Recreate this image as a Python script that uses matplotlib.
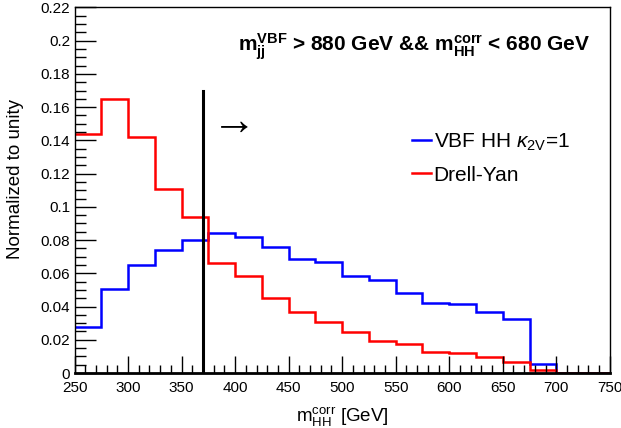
import numpy as np
import matplotlib
matplotlib.use("Agg")
import matplotlib.pyplot as plt
from matplotlib.ticker import MultipleLocator, FuncFormatter

plt.rcParams['font.family'] = ['Liberation Sans', 'DejaVu Sans']
plt.rcParams['mathtext.fontset'] = 'custom'
plt.rcParams['mathtext.rm'] = 'Liberation Sans'
plt.rcParams['mathtext.it'] = 'Liberation Sans:italic'
plt.rcParams['mathtext.bf'] = 'Liberation Sans:bold'

# bin edges, 25 GeV wide
edges = np.arange(250, 751, 25)

vbf_hh = [0.0276, 0.0507, 0.0648, 0.0741, 0.0803, 0.0845, 0.0816, 0.0757, 0.0688, 0.0668,
          0.0582, 0.0557, 0.0479, 0.0419, 0.0415, 0.0368, 0.0326, 0.0054, 0.0, 0.0]
drell_yan = [0.1437, 0.1649, 0.1418, 0.1105, 0.0938, 0.0660, 0.0586, 0.0451, 0.0366, 0.0308,
             0.0248, 0.0191, 0.0175, 0.0126, 0.0121, 0.0097, 0.0068, 0.0020, 0.0, 0.0]

cut_value = 370
cut_top = 0.17

fig = plt.figure(figsize=(6.21, 4.28), dpi=100)
ax = fig.add_axes([0.12, 0.1285, 0.862, 0.854])

ax.stairs(vbf_hh, edges, color='#0000ff', lw=1.8, label=r'VBF HH $\kappa_{\mathrm{2V}}$=1', baseline=None)
ax.stairs(drell_yan, edges, color='#ff0000', lw=1.8, label='Drell-Yan', baseline=None)
ax.plot([cut_value, cut_value], [0, cut_top], color='black', lw=2.2)

ax.set_xlim(250, 750)
ax.set_ylim(0, 0.22)

ax.xaxis.set_major_locator(MultipleLocator(50))
ax.xaxis.set_minor_locator(MultipleLocator(10))
ax.yaxis.set_major_locator(MultipleLocator(0.02))
ax.yaxis.set_minor_locator(MultipleLocator(0.005))
ax.yaxis.set_major_formatter(FuncFormatter(lambda v, p: '%g' % round(v, 3)))
ax.tick_params(which='both', direction='in', top=False, right=False, labelsize=11)
ax.tick_params(which='major', length=12, width=1)
ax.tick_params(which='minor', length=6, width=1)
ax.tick_params(axis='y', which='major', length=15, pad=3)
ax.tick_params(axis='y', which='minor', length=8)
ax.tick_params(axis='x', pad=6)
for s in ax.spines.values():
    s.set_linewidth(1)
ax.spines['bottom'].set_linewidth(2)

ax.set_xlabel(r'$\mathrm{m}_{\mathrm{HH}}^{\mathrm{corr}}$ [GeV]', fontsize=13.5, va='center')
ax.xaxis.set_label_coords(0.5, -0.121)
ax.set_ylabel('Normalized to unity', fontsize=13.5, va='center')
ax.yaxis.set_label_coords(-0.111, 0.53)

ax.text(0.963, 0.881, r'$\mathbf{m_{jj}^{VBF}}$ > 880 GeV && $\mathbf{m_{HH}^{corr}}$ < 680 GeV',
        transform=ax.transAxes, ha='right', va='baseline', fontsize=15, fontweight='bold')
ax.text(378, 0.151, '→', fontsize=32, va='center', ha='left')

ax.legend(loc='upper left', bbox_to_anchor=(0.63, 0.66), frameon=False, fontsize=15,
          handlelength=0.9, handletextpad=0.15, labelspacing=0.6, borderaxespad=0, borderpad=0)

fig.savefig('out.png', dpi=100)
